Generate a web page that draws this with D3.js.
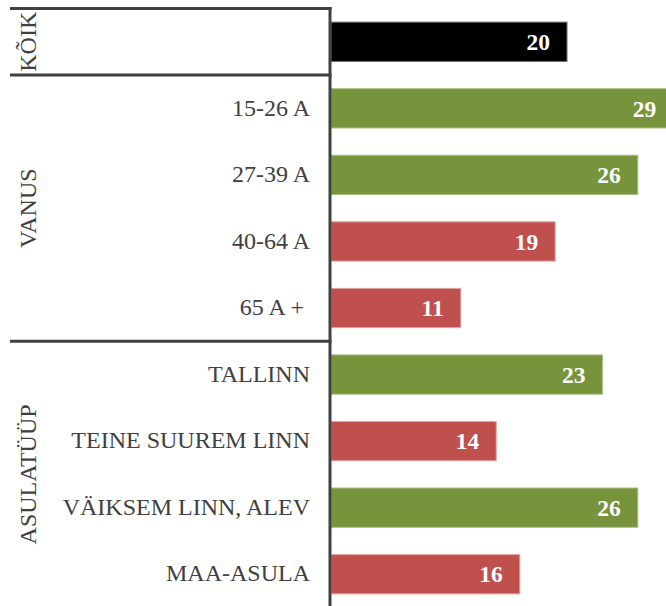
<!DOCTYPE html>
<html>
<head>
<meta charset="utf-8">
<script src="https://cdn.jsdelivr.net/npm/d3@7"></script>
<style>
  html, body { margin: 0; padding: 0; background: #fff; }
  svg { display: block; }
</style>
</head>
<body>
<div id="chart"></div>
<script>
// ---- data ----
const categories = ["KÕIK", "15-26 A", "27-39 A", "40-64 A", "65 A + ", "TALLINN", "TEINE SUUREM LINN", "VÄIKSEM LINN, ALEV", "MAA-ASULA"];
const values = [20, 29, 26, 19, 11, 23, 14, 26, 16];
const groupNames = ["KÕIK", "VANUS", "ASULATÜÜP"];
const groupStart = [0, 1, 5];   // index of first category in each group
const groupEnd = [0, 4, 8];     // index of last category in each group

// ---- layout ----
const W = 666, H = 606;
const axisX = 330;
const lineColor = "#404040";
const serif = "'Liberation Serif', 'Times New Roman', Times, serif";
const totalValue = values[0];

const svg = d3.select("#chart").append("svg")
  .attr("width", W).attr("height", H)
  .style("font-family", serif);

const y = d3.scaleBand()
  .domain(categories)
  .range([8.5, 607.5])
  .paddingInner(0.41)
  .paddingOuter(0.205);

const x = d3.scaleLinear()
  .domain([0, 30])
  .range([331, 331 + 11.8 * 30]);

function barFill(v, i) {
  if (i === 0) return "#000000";
  return v > totalValue ? "#77933C" : "#C0504D";
}
function barStroke(v, i) {
  if (i === 0) return "#6e6e6e";
  return v > totalValue ? "#a8bd86" : "#e2a3a2";
}

// bars
svg.append("g").selectAll("rect")
  .data(values)
  .join("rect")
  .attr("x", x(0))
  .attr("y", (d, i) => y(categories[i]))
  .attr("width", d => x(d) - x(0))
  .attr("height", y.bandwidth())
  .attr("fill", (d, i) => barFill(d, i))
  .attr("stroke", (d, i) => barStroke(d, i))
  .attr("stroke-width", 1);

// value labels
svg.append("g").selectAll("text")
  .data(values)
  .join("text")
  .attr("x", d => x(d) - 17)
  .attr("y", (d, i) => y(categories[i]) + y.bandwidth() / 2)
  .attr("dy", "0.35em")
  .attr("text-anchor", "end")
  .attr("fill", "#ffffff")
  .attr("font-family", serif)
  .attr("font-weight", "bold")
  .attr("font-size", 23.5)
  .text(d => d);

// category labels (skip the total row)
svg.append("g").selectAll("text")
  .data(categories.slice(1))
  .join("text")
  .attr("x", 310)
  .attr("y", d => y(d) + y.bandwidth() / 2)
  .attr("dy", "0.3em")
  .attr("text-anchor", "end")
  .attr("fill", lineColor)
  .attr("font-family", serif)
  .attr("font-size", 24)
  .style("white-space", "pre")
  .text(d => d);

// group separators
const step = y.step();
const rowTop = i => y(categories[i]) - y.paddingOuter() * step;
const rowBottom = i => y(categories[i]) + y.bandwidth() + y.paddingOuter() * step;

const sepY = [rowTop(0), rowBottom(0), rowBottom(4)];
svg.append("g").selectAll("line")
  .data(sepY)
  .join("line")
  .attr("x1", 10).attr("x2", axisX + 1.5)
  .attr("y1", d => d).attr("y2", d => d)
  .attr("stroke", lineColor)
  .attr("stroke-width", 3);

// vertical axis line
svg.append("line")
  .attr("x1", axisX).attr("x2", axisX)
  .attr("y1", rowTop(0) - 1.5).attr("y2", H)
  .attr("stroke", lineColor)
  .attr("stroke-width", 3);

// group labels (rotated)
svg.append("g").selectAll("text")
  .data(groupNames)
  .join("text")
  .attr("transform", (d, i) => {
    const cy = (rowTop(groupStart[i]) + rowBottom(groupEnd[i])) / 2;
    return `translate(36,${cy}) rotate(-90)`;
  })
  .attr("text-anchor", "middle")
  .attr("fill", lineColor)
  .attr("font-family", serif)
  .attr("font-size", 24)
  .text(d => d);
</script>
</body>
</html>
